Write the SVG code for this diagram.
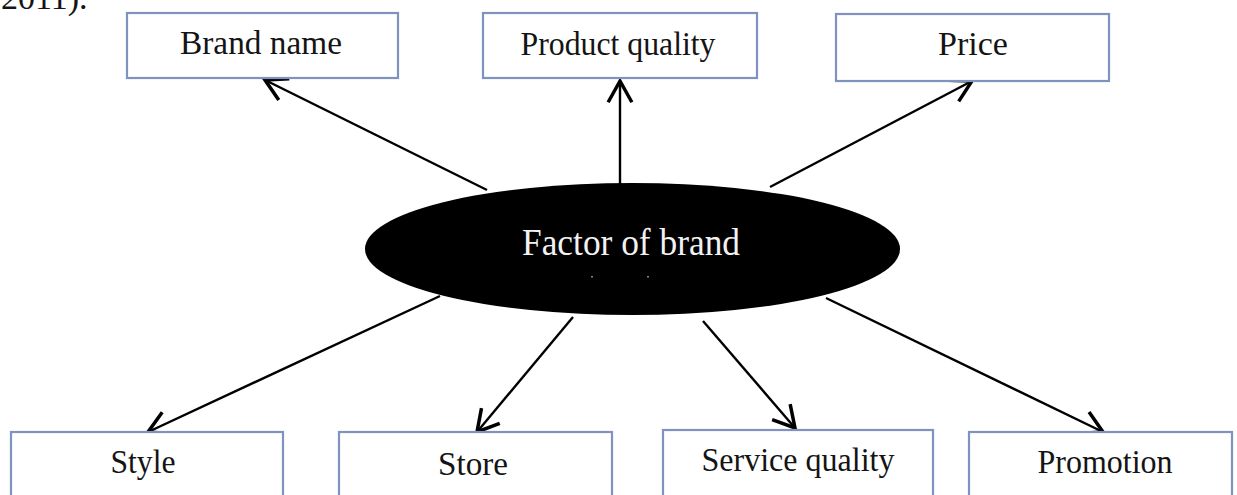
<svg xmlns="http://www.w3.org/2000/svg" width="1237" height="495" viewBox="0 0 1237 495">
  <style>
    .box { fill: #ffffff; stroke: #7f93bf; stroke-width: 2.2; }
    .lbl { font-family: "Liberation Serif", "Times New Roman", serif; font-size: 33px; fill: #141414; text-anchor: middle; }
    .conn { stroke: #000000; stroke-width: 2.4; fill: none; marker-end: url(#arrow); }
  </style>
  <defs>
    <marker id="arrow" markerUnits="userSpaceOnUse" markerWidth="30" markerHeight="30" viewBox="-20 -12 24 24" refX="0" refY="0" orient="auto">
      <path d="M -17 -9.5 L 0 0 L -17 9.5" fill="none" stroke="#000000" stroke-width="2.8" stroke-linejoin="miter"/>
    </marker>
  </defs>

  <!-- tail of the preceding paragraph -->
  <text x="1" y="9" class="lbl" style="text-anchor:start; font-size:34px;">2011).</text>

  <!-- connectors from the centre ellipse to each factor -->
  <g id="connectors">
    <line class="conn" x1="487" y1="190" x2="265" y2="80"/>
    <line class="conn" x1="620" y1="184" x2="620" y2="81"/>
    <line class="conn" x1="770" y1="187" x2="972" y2="81"/>
    <line class="conn" x1="440" y1="296" x2="148" y2="432"/>
    <line class="conn" x1="573" y1="317" x2="477" y2="432"/>
    <line class="conn" x1="703" y1="321" x2="795" y2="428"/>
    <line class="conn" x1="826" y1="298" x2="1103" y2="432"/>
  </g>

  <!-- centre node -->
  <g id="factor-of-brand">
    <ellipse cx="632.5" cy="249" rx="267.5" ry="66" fill="#000000"/>
    <text x="631" y="255" class="lbl" style="fill:#f2f2f2; font-size:37px;" textLength="218" lengthAdjust="spacingAndGlyphs">Factor of brand</text>
    <rect x="591" y="276" width="2" height="1.5" fill="#888888"/>
    <rect x="647" y="276" width="2" height="1.5" fill="#888888"/>
  </g>

  <!-- top row -->
  <g id="brand-name">
    <rect class="box" x="127" y="13" width="271" height="65"/>
    <text x="261" y="54" class="lbl" textLength="162" lengthAdjust="spacingAndGlyphs">Brand name</text>
  </g>
  <g id="product-quality">
    <rect class="box" x="483" y="13" width="274" height="65"/>
    <text x="618" y="55" class="lbl" textLength="195" lengthAdjust="spacingAndGlyphs">Product quality</text>
  </g>
  <g id="price">
    <rect class="box" x="836" y="14" width="273" height="67"/>
    <text x="973" y="55" class="lbl" textLength="70" lengthAdjust="spacingAndGlyphs">Price</text>
  </g>

  <!-- bottom row -->
  <g id="style">
    <rect class="box" x="11" y="432" width="272" height="80"/>
    <text x="143" y="473" class="lbl" textLength="65" lengthAdjust="spacingAndGlyphs">Style</text>
  </g>
  <g id="store">
    <rect class="box" x="339" y="432" width="273" height="80"/>
    <text x="473" y="475" class="lbl" textLength="70" lengthAdjust="spacingAndGlyphs">Store</text>
  </g>
  <g id="service-quality">
    <rect class="box" x="663" y="430" width="270" height="80"/>
    <text x="798" y="471" class="lbl" textLength="193" lengthAdjust="spacingAndGlyphs">Service quality</text>
  </g>
  <g id="promotion">
    <rect class="box" x="969" y="432" width="263" height="80"/>
    <text x="1105" y="473" class="lbl" textLength="135" lengthAdjust="spacingAndGlyphs">Promotion</text>
  </g>
</svg>
